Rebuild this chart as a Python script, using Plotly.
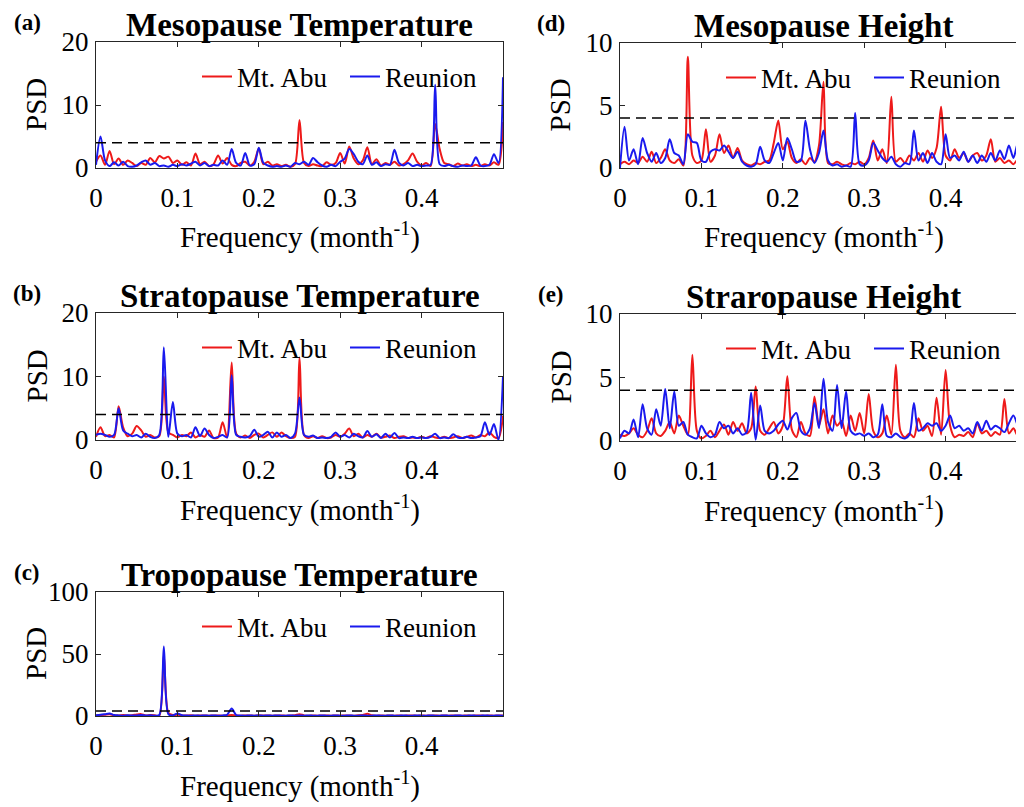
import plotly.graph_objects as go

# ---------------- data ----------------
# frequency grid (month^-1), 1/180 spacing from 0 to 0.5
freq = [k / 180 for k in range(91)]
threshold = 4

series_names = ["Mt. Abu", "Reunion"]
panel_titles = ["Mesopause Temperature", "Stratopause Temperature", "Tropopause Temperature",
                "Mesopause Height", "Straropause Height"]
panel_letters = ["(a)", "(b)", "(c)", "(d)", "(e)"]
x_tick_vals = [0, 0.1, 0.2, 0.3, 0.4]
x_tick_text = ["0", "0.1", "0.2", "0.3", "0.4"]
y_tick_vals_a = [0, 10, 20]
y_tick_vals_b = [0, 10, 20]
y_tick_vals_c = [0, 50, 100]
y_tick_vals_d = [0, 5, 10]
y_tick_vals_e = [0, 5, 10]

# (a) Mesopause temperature
red_a = [1.0, 2.0, 0.5, 2.7, 0.6, 1.5, 0.5, 1.2, 0.8, 0.3,
         0.8, 0.5, 1.6, 0.9, 1.9, 1.5, 1.8, 0.8, 1.2, 0.5,
         0.9, 0.4, 2.3, 0.6, 1.0, 0.3, 0.6, 2.0, 0.7, 1.6,
         0.5, 0.3, 0.8, 1.0, 0.4, 1.0, 3.1, 0.6, 1.0, 0.4,
         0.6, 0.3, 0.5, 0.2, 0.6, 7.6, 0.8, 0.3, 0.6, 0.4,
         0.3, 0.9, 0.5, 0.8, 2.4, 0.7, 3.4, 1.5, 0.6, 1.2,
         3.3, 0.6, 1.4, 0.4, 0.8, 0.5, 1.0, 0.4, 0.6, 1.2,
         2.3, 1.0, 0.4, 0.8, 0.3, 7.0, 3.0, 0.8, 0.6, 0.3,
         0.7, 0.4, 0.6, 0.3, 0.5, 0.3, 0.6, 0.4, 0.9, 0.5,
         7.3]
blue_a = [0.5, 5.0, 1.2, 0.3, 0.9, 0.4, 1.0, 0.3, 0.2, 0.4,
          0.9, 1.2, 0.5, 0.8, 0.3, 0.4, 0.2, 0.5, 0.3, 0.6,
          0.4, 0.7, 1.0, 0.4, 0.8, 0.3, 0.5, 0.4, 1.2, 0.5,
          3.0, 0.8, 0.4, 2.4, 0.4, 0.6, 3.2, 0.8, 0.4, 0.2,
          0.3, 0.2, 0.4, 0.2, 0.8, 0.6, 1.0, 0.5, 1.6, 0.9,
          0.4, 0.2, 0.5, 0.3, 1.0, 1.5, 3.0, 2.2, 1.0, 0.6,
          2.0, 0.5, 0.9, 0.3, 0.6, 0.5, 2.9, 0.8, 0.4, 0.8,
          0.3, 0.5, 0.3, 0.4, 0.5, 13.2, 0.6, 0.3, 0.5, 0.3,
          0.2, 0.4, 0.3, 0.4, 1.7, 0.4, 0.3, 0.5, 2.2, 0.8,
          14.4]

# (b) Stratopause temperature
red_b = [0.5, 2.0, 0.6, 0.8, 0.4, 5.3, 2.0, 0.6, 1.0, 2.2,
         1.5, 0.5, 0.8, 0.4, 0.6, 10.0, 1.2, 0.8, 0.4, 0.8,
         0.6, 1.2, 0.4, 0.8, 0.5, 1.5, 0.3, 0.4, 2.8, 0.4,
         12.2, 1.0, 0.4, 0.7, 0.3, 0.8, 1.0, 0.4, 0.8, 1.2,
         0.5, 1.2, 0.6, 0.3, 0.5, 13.0, 0.8, 0.3, 0.6, 0.3,
         0.6, 0.3, 0.4, 0.8, 0.5, 1.0, 1.8, 0.6, 1.0, 0.4,
         0.8, 0.5, 1.0, 0.4, 0.5, 0.7, 0.3, 0.5, 0.6, 0.3,
         0.4, 0.3, 0.5, 0.3, 0.6, 0.4, 0.3, 0.5, 0.3, 0.4,
         0.6, 0.3, 0.5, 0.7, 0.4, 0.8, 0.6, 1.2, 0.5, 0.3,
         3.8]
blue_b = [0.8, 1.0, 0.8, 0.5, 0.8, 5.0, 1.5, 1.0, 0.6, 0.8,
          0.4, 1.0, 0.5, 0.3, 0.8, 14.6, 0.5, 6.0, 1.0, 0.6,
          0.8, 0.4, 2.0, 0.6, 1.8, 0.8, 0.3, 0.5, 0.8, 0.4,
          10.2, 0.8, 0.5, 0.4, 0.6, 1.6, 0.5, 0.8, 1.3, 0.4,
          1.2, 0.5, 0.8, 0.3, 1.0, 6.7, 0.8, 0.5, 0.7, 0.3,
          0.4, 0.3, 0.5, 1.2, 0.5, 0.8, 0.4, 1.0, 0.6, 0.4,
          1.4, 0.5, 0.9, 0.3, 1.0, 0.4, 1.1, 0.3, 0.4, 0.3,
          0.5, 0.3, 0.4, 0.3, 0.5, 1.0, 0.3, 0.4, 0.3, 0.9,
          0.4, 0.3, 0.5, 0.3, 0.4, 0.6, 2.8, 0.8, 2.5, 0.0,
          10.0]

# (c) Tropopause temperature
red_c = [0.5, 0.8, 1.0, 1.5, 0.6, 0.4, 0.8, 0.5, 0.6, 1.2,
         1.5, 0.5, 0.8, 0.6, 0.2, 49.0, 2.5, 0.8, 1.0, 0.5,
         0.4, 0.6, 0.3, 0.5, 0.4, 0.3, 0.5, 0.4, 0.3, 0.5,
         0.8, 0.4, 0.3, 0.5, 0.4, 0.3, 0.6, 0.4, 0.5, 0.3,
         0.4, 0.5, 0.3, 0.4, 0.6, 1.5, 0.5, 0.3, 0.4, 0.3,
         0.5, 0.4, 0.3, 0.4, 0.3, 0.5, 0.4, 0.3, 0.6, 0.8,
         1.8, 0.6, 0.3, 0.4, 0.3, 0.5, 0.3, 0.4, 0.3, 0.4,
         0.5, 0.3, 0.4, 0.3, 0.5, 0.4, 0.3, 0.4, 0.3, 0.5,
         0.4, 0.3, 0.4, 0.3, 0.4, 0.5, 0.3, 0.4, 0.3, 0.4,
         0.5]
blue_c = [0.6, 1.0, 1.5, 2.0, 0.8, 0.5, 0.3, 0.6, 0.4, 0.5,
          0.8, 0.4, 0.6, 0.3, 0.8, 56.0, 1.5, 0.5, 2.0, 0.6,
          0.4, 0.3, 0.5, 0.3, 0.4, 0.3, 0.4, 0.3, 0.5, 1.0,
          6.0, 0.8, 0.4, 0.3, 0.4, 0.3, 0.5, 0.3, 0.4, 0.3,
          0.4, 0.3, 0.3, 0.4, 0.3, 0.5, 0.3, 0.4, 0.3, 0.3,
          0.4, 0.3, 0.3, 0.4, 0.3, 0.3, 0.4, 0.3, 0.3, 0.4,
          0.3, 0.3, 0.4, 0.3, 0.3, 0.4, 0.3, 0.3, 0.4, 0.3,
          0.3, 0.4, 0.3, 0.3, 0.4, 0.3, 0.3, 0.4, 0.3, 0.3,
          0.4, 0.3, 0.3, 0.4, 0.3, 0.3, 0.4, 0.3, 0.3, 0.4,
          0.3]

# (d) Mesopause height
red_d = [0.3, 0.5, 0.3, 0.6, 0.4, 0.9, 0.5, 1.3, 0.4, 0.8,
         1.5, 0.6, 0.4, 0.7, 0.2, 8.9, 1.0, 0.4, 0.6, 3.1,
         0.5, 1.0, 2.7, 1.2, 1.8, 0.8, 1.6, 0.6, 0.3, 0.2,
         0.4, 0.3, 0.5, 0.6, 2.0, 3.8, 1.5, 2.1, 0.8, 0.4,
         0.7, 0.3, 0.8, 0.5, 1.8, 6.9, 0.4, 0.3, 0.5, 0.3,
         0.2, 0.4, 0.3, 0.5, 0.3, 0.8, 2.2, 0.6, 1.5, 0.4,
         5.7, 0.5, 0.8, 0.4, 1.0, 0.6, 1.2, 0.5, 1.4, 0.8,
         1.6, 4.9, 1.0, 0.6, 1.5, 0.8, 1.2, 0.5, 1.0, 1.2,
         0.6, 1.0, 2.3, 0.5, 0.8, 0.4, 0.6, 0.3, 0.7, 0.4,
         5.2]
blue_d = [0.0, 3.3, 0.6, 1.5, 0.3, 2.4, 1.2, 0.5, 1.2, 0.4,
          0.8, 2.3, 1.2, 1.0, 0.3, 2.7, 2.1, 2.0, 0.6, 0.5,
          1.3, 1.5, 1.4, 1.8, 1.3, 0.8, 1.3, 0.5, 0.2, 0.1,
          0.3, 1.7, 0.6, 0.4, 1.2, 2.0, 0.6, 2.4, 1.5, 0.5,
          0.6, 3.8, 1.5, 0.4, 1.2, 3.0, 0.6, 0.2, 0.3, 0.1,
          0.2, 0.1, 4.4, 0.3, 0.2, 0.6, 2.0, 1.4, 0.8, 0.5,
          0.9, 0.3, 0.1, 0.4, 0.3, 3.0, 0.6, 1.2, 0.4, 1.2,
          0.5, 0.3, 2.7, 0.8, 1.0, 0.6, 1.3, 0.5, 1.0, 0.4,
          1.0, 0.5, 1.2, 0.6, 1.4, 0.7, 1.8, 0.8, 2.0, 0.9,
          2.2]

# (e) Stratopause height
red_e = [0.5, 0.4, 0.6, 1.0, 0.5, 0.3, 0.8, 1.8, 0.6, 0.4,
         0.8, 1.5, 0.6, 2.0, 1.2, 0.5, 6.8, 0.8, 0.2, 0.4,
         0.8, 0.3, 0.8, 1.3, 0.5, 1.5, 0.8, 1.4, 0.6, 1.0,
         4.3, 0.8, 0.5, 1.0, 1.5, 0.6, 1.2, 5.1, 0.9, 0.3,
         1.5, 0.6, 0.4, 3.5, 1.2, 2.5, 0.6, 2.0, 1.2, 1.6,
         0.4, 2.0, 0.8, 2.2, 0.6, 3.7, 0.8, 0.3, 0.6, 2.0,
         0.5, 6.0, 0.8, 0.3, 0.6, 0.3, 1.8, 0.8, 1.2, 0.4,
         3.4, 0.5, 5.6, 1.2, 0.3, 0.5, 0.4, 0.7, 0.3, 1.4,
         0.6, 0.8, 0.4, 0.7, 0.5, 3.3, 0.6, 1.0, 0.4, 0.6,
         0.5]
blue_e = [0.2, 0.8, 0.6, 1.7, 0.3, 2.9, 1.0, 0.5, 2.5, 1.2,
          4.1, 1.0, 3.9, 1.2, 1.5, 0.5, 0.3, 0.2, 1.2, 0.6,
          0.3, 0.5, 1.5, 1.0, 1.2, 0.6, 1.0, 0.5, 0.7, 3.8,
          0.1, 2.8, 0.8, 0.6, 0.8, 1.3, 1.6, 0.9, 1.8, 2.2,
          0.8, 0.5, 1.0, 3.0, 1.0, 4.9, 1.5, 0.8, 4.4, 1.0,
          3.9, 0.8, 0.5, 0.6, 0.4, 0.6, 0.3, 0.5, 2.9, 0.4,
          0.3, 0.6, 0.3, 0.2, 0.5, 3.0, 0.8, 1.0, 1.4, 1.2,
          1.4, 0.8, 1.2, 2.0, 1.0, 1.2, 0.8, 1.0, 0.6, 1.5,
          0.8, 1.6, 0.9, 1.2, 1.0, 0.7, 1.4, 2.0, 1.2, 0.7,
          2.3]

red_series = [red_a, red_b, red_c, red_d, red_e]
blue_series = [blue_a, blue_b, blue_c, blue_d, blue_e]
y_tick_sets = [y_tick_vals_a, y_tick_vals_b, y_tick_vals_c, y_tick_vals_d, y_tick_vals_e]

# ---------------- layout geometry ----------------
# The page body has an 8px margin, so the figure is drawn 8px right/down.
PAGE_W, PAGE_H = 1024, 807
OFF = 8
W, H = PAGE_W - OFF, PAGE_H - OFF
FONT = "Liberation Serif, Times New Roman, serif"
AX = "#262626"
RED = "#EE1A1A"
BLUE = "#1A1AEE"

# plot-area boxes in page pixels: (left, right, top, bottom); right panels run past the page edge
boxes = [(96, 503, 42, 168), (96, 503, 313, 440), (96, 503, 592, 716),
         (620, 1027, 43, 168), (620, 1027, 314, 441)]


def fx(px):
    return (px - OFF) / W


def fy(py):
    return 1 - (py - OFF) / H


fig = go.Figure()
annotations = []
layout = dict(width=W, height=H, margin=dict(l=0, r=0, t=0, b=0, autoexpand=False),
              autosize=False, paper_bgcolor="white", plot_bgcolor="white",
              font=dict(family=FONT, color="black"), showlegend=True)

for i in range(5):
    n = i + 1
    xa = "xaxis" if n == 1 else f"xaxis{n}"
    ya = "yaxis" if n == 1 else f"yaxis{n}"
    xr = "x" if n == 1 else f"x{n}"
    yr = "y" if n == 1 else f"y{n}"
    lg = "legend" if n == 1 else f"legend{n}"
    L, R, T, B = boxes[i]
    full = 0.5
    right_clip = min(R, PAGE_W)
    xmax = full * (right_clip - L) / (R - L)
    ymax = y_tick_sets[i][-1]
    line_kw = dict(width=2, shape="spline", smoothing=0.8)

    fig.add_trace(go.Scatter(x=freq, y=red_series[i], mode="lines", name=series_names[0],
                             line=dict(color=RED, **line_kw), xaxis=xr, yaxis=yr, legend=lg))
    fig.add_trace(go.Scatter(x=freq, y=blue_series[i], mode="lines", name=series_names[1],
                             line=dict(color=BLUE, **line_kw), xaxis=xr, yaxis=yr, legend=lg))
    fig.add_trace(go.Scatter(x=[freq[0], freq[-1]], y=[threshold, threshold], mode="lines",
                             line=dict(color="black", width=1.5, dash="10px,6px"),
                             showlegend=False, xaxis=xr, yaxis=yr, hoverinfo="skip"))

    layout[xa] = dict(domain=[fx(L), fx(right_clip)], range=[0, xmax], anchor=yr,
                      tickvals=x_tick_vals, ticktext=x_tick_text, ticks="inside", ticklen=5,
                      tickcolor=AX, showline=True, linecolor=AX, linewidth=1, mirror="ticks",
                      showgrid=False, zeroline=False, ticklabelstandoff=6,
                      tickfont=dict(size=27, family=FONT, color="black"))
    layout[ya] = dict(domain=[fy(B), fy(T)], range=[0, ymax], anchor=xr,
                      tickvals=y_tick_sets[i], ticks="inside", ticklen=5,
                      tickcolor=AX, showline=True, linecolor=AX, linewidth=1,
                      mirror="ticks" if R <= PAGE_W else False,
                      showgrid=False, zeroline=False, ticklabelstandoff=1,
                      tickfont=dict(size=27, family=FONT, color="black"))

    cx = (L + R) / 2
    annotations.append(dict(text=f"<b>{panel_titles[i]}</b>", x=fx(cx), y=fy(T - 17),
                            xref="paper", yref="paper", xanchor="center", yanchor="middle",
                            showarrow=False, font=dict(size=33, family=FONT, color="black")))
    annotations.append(dict(text=f"<b>{panel_letters[i]}</b>", x=fx(L - 69), y=fy(T - 20),
                            xref="paper", yref="paper", xanchor="center", yanchor="middle",
                            showarrow=False, font=dict(size=23, family=FONT, color="black")))
    annotations.append(dict(text="PSD", x=fx(L - 60), y=fy((T + B) / 2), textangle=-90,
                            xref="paper", yref="paper", xanchor="center", yanchor="middle",
                            showarrow=False, font=dict(size=29, family=FONT, color="black")))
    annotations.append(dict(text="Frequency (month<sup>-1</sup>)", x=fx(cx), y=fy(B + 68),
                            xref="paper", yref="paper", xanchor="center", yanchor="middle",
                            showarrow=False, font=dict(size=29, family=FONT, color="black")))
    layout[lg] = dict(x=fx(L + 101), y=fy(T + 35), xanchor="left", yanchor="middle",
                      orientation="h", bgcolor="rgba(0,0,0,0)", borderwidth=0,
                      font=dict(size=27, family=FONT, color="black"),
                      entrywidthmode="pixels", entrywidth=103,
                      itemwidth=30, tracegroupgap=0)

layout["annotations"] = annotations
fig.update_layout(**layout)
fig.write_html("out.html")
